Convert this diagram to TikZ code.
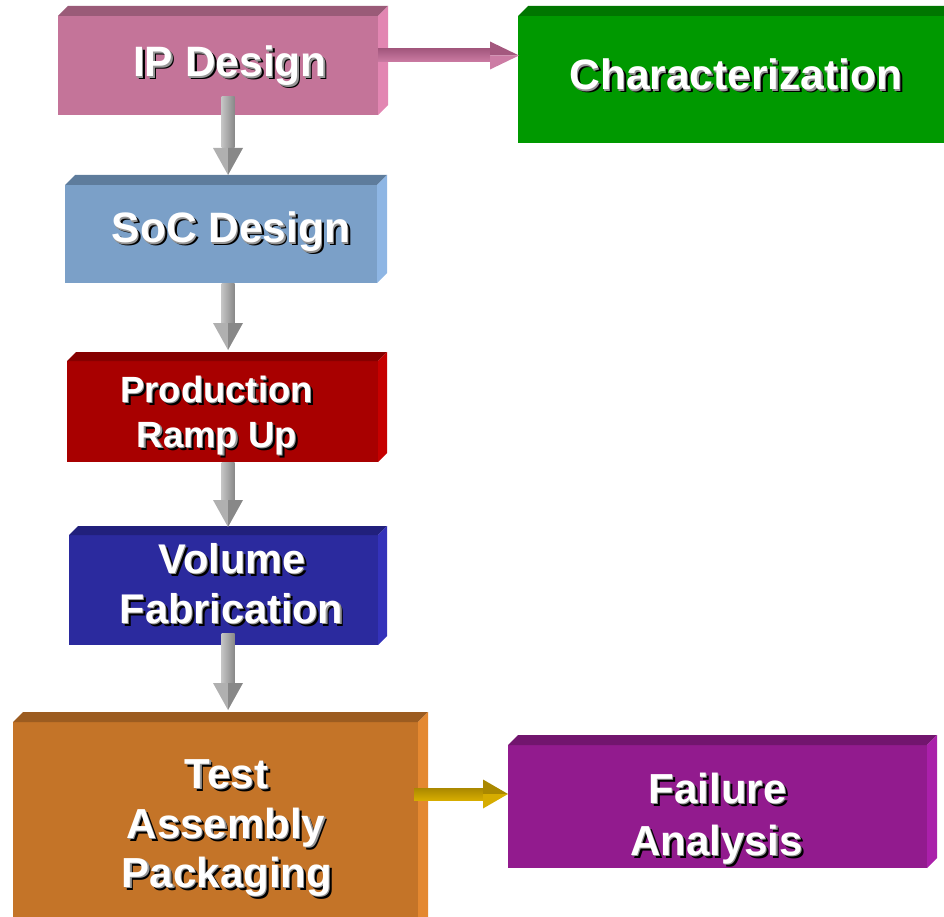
\documentclass[tikz,border=0pt]{standalone}
\usepackage{fontspec}
\newfontfamily\lbfont{Liberation Sans}
\usetikzlibrary{calc}

% face colours: F = front, T = top, S = side
\definecolor{ipF}{RGB}{196,116,153}\definecolor{ipT}{RGB}{154,91,120}\definecolor{ipS}{RGB}{226,134,178}
\definecolor{chF}{RGB}{0,153,0}\definecolor{chT}{RGB}{0,118,0}\definecolor{chS}{RGB}{0,175,0}
\definecolor{scF}{RGB}{123,160,200}\definecolor{scT}{RGB}{94,124,156}\definecolor{scS}{RGB}{142,182,228}
\definecolor{prF}{RGB}{168,0,0}\definecolor{prT}{RGB}{134,0,0}\definecolor{prS}{RGB}{198,0,0}
\definecolor{voF}{RGB}{43,42,158}\definecolor{voT}{RGB}{33,32,124}\definecolor{voS}{RGB}{52,50,186}
\definecolor{teF}{RGB}{196,116,40}\definecolor{teT}{RGB}{156,92,32}\definecolor{teS}{RGB}{228,136,48}
\definecolor{faF}{RGB}{146,27,142}\definecolor{faT}{RGB}{114,21,110}\definecolor{faS}{RGB}{170,32,170}
\definecolor{grL}{RGB}{196,196,196}\definecolor{grD}{RGB}{136,136,136}
\definecolor{pkL}{RGB}{204,124,164}\definecolor{pkD}{RGB}{164,88,126}
\definecolor{gdL}{RGB}{214,172,0}\definecolor{gdD}{RGB}{170,136,0}
\definecolor{bevel}{RGB}{150,150,150}

\tikzset{
  front/.style={rectangle, inner sep=0pt, outer sep=0pt, draw=none},
  lbl/.style={inner sep=0pt, outer sep=0pt, anchor=base}
}

% white lettering with a grey bevel and a black drop shadow
\newcommand\embossed[1]{%
  \rlap{\kern3pt\raisebox{-3pt}{\color{black}#1}}%
  \rlap{\kern1.2pt\raisebox{-1.2pt}{\color{bevel}#1}}%
  {\color{white}#1}}

% a box seen slightly from above and from the right
% #1 name, #2 cx, #3 cy, #4 width, #5 height, #6 colour prefix, #7 depth
\newcommand\cuboid[7]{%
  \node[front, fill=#6F, minimum width=#4pt, minimum height=#5pt] (#1) at (#2,#3) {};
  \fill[#6T] (#1.north west) -- ++(#7,-#7) -- ([shift={(#7,-#7)}]#1.north east) -- (#1.north east) -- cycle;
  \fill[#6S] (#1.north east) -- ++(#7,-#7) -- ([shift={(#7,-#7)}]#1.south east) -- (#1.south east) -- cycle;
}

% one line of box lettering
% #1 name, #2 x, #3 baseline y, #4 size, #5 text
\newcommand\boxtext[5]{%
  \node[lbl, font=\lbfont\bfseries\fontsize{#4}{#4}\selectfont] (#1) at (#2,#3) {\embossed{#5}};
}

% downward block arrow from #1 to #2
\newcommand\varrow[2]{%
  \shade[left color=grL, right color=grD] let \p1=(#1), \p2=(#2) in
    (\x1-6.5pt,\y1) -- (\x1+6.5pt,\y1) -- (\x1+6.5pt,\y2+27pt) -- (\x1-6.5pt,\y2+27pt) -- cycle;
  \fill[grL!90!black] let \p1=(#1), \p2=(#2) in
    (\x1-15pt,\y2+27pt) -- (\x1,\y2+27pt) -- (\x1,\y2) -- cycle;
  \fill[grD] let \p1=(#1), \p2=(#2) in
    (\x1+15pt,\y2+27pt) -- (\x1,\y2+27pt) -- (\x1,\y2) -- cycle;
}

% rightward block arrow from #1 to #2
% #3 light, #4 dark, #5 shaft half width, #6 head half width, #7 head length
\newcommand\harrow[7]{%
  \shade[top color=#4, bottom color=#3] let \p1=(#1), \p2=(#2) in
    (\x1,\y1+#5pt) -- (\x2-#7pt,\y1+#5pt) -- (\x2-#7pt,\y1-#5pt) -- (\x1,\y1-#5pt) -- cycle;
  \fill[#4] let \p1=(#1), \p2=(#2) in
    (\x2-#7pt,\y1+#6pt) -- (\x2,\y1) -- (\x2-#7pt,\y1) -- cycle;
  \fill[#3] let \p1=(#1), \p2=(#2) in
    (\x2-#7pt,\y1-#6pt) -- (\x2,\y1) -- (\x2-#7pt,\y1) -- cycle;
}

\begin{document}
\begin{tikzpicture}[x=1pt, y=-1pt]
\useasboundingbox (0,0) rectangle (944,917);
\clip (0,0) rectangle (944,917);

% boxes
\cuboid{ip}{218}{65.5}{320}{99}{ip}{10}
\cuboid{ch}{737}{79.5}{438}{127}{ch}{10}
\cuboid{soc}{221}{234}{312}{98}{sc}{10}
\cuboid{prod}{222.5}{411.5}{311}{101}{pr}{9}
\cuboid{vol}{223.5}{590}{309}{110}{vo}{9}
\cuboid{test}{215.5}{826}{405}{208}{te}{10}
\cuboid{fail}{717.5}{806.5}{419}{123}{fa}{10}

% connectors
\coordinate (ipOut) at ([shift={(10,-18.5)}]ip.south);
\coordinate (socIn) at ([shift={(7,-10)}]soc.north);
\varrow{ipOut}{socIn}
\coordinate (socOut) at ([shift={(7,0)}]soc.south);
\coordinate (prodIn) at ([shift={(5.5,-11)}]prod.north);
\varrow{socOut}{prodIn}
\coordinate (prodOut) at ([shift={(5.5,0)}]prod.south);
\coordinate (volIn) at ([shift={(4.5,-8)}]vol.north);
\varrow{prodOut}{volIn}
\coordinate (volOut) at ([shift={(4.5,-12)}]vol.south);
\coordinate (testIn) at ([shift={(12.5,-12)}]test.north);
\varrow{volOut}{testIn}
\coordinate (ipSide) at ([shift={(0,-10)}]ip.east);
\coordinate (chIn) at ([shift={(1,-24)}]ch.west);
\harrow{ipSide}{chIn}{pkL}{pkD}{6.5}{14}{29}
\coordinate (testSide) at ([shift={(-4,-32)}]test.east);
\coordinate (failIn) at ([shift={(0,-12.5)}]fail.west);
\harrow{testSide}{failIn}{gdL}{gdD}{6}{14.5}{25}

% labels
\boxtext{ipT}{230}{77}{42.5}{IP Design}
\boxtext{chT}{736}{90}{42.5}{Characterization}
\boxtext{socT}{231}{243}{42.5}{SoC Design}
\boxtext{prodT1}{216.5}{402}{36.5}{Production}
\boxtext{prodT2}{217}{447}{36.5}{Ramp Up}
\boxtext{volT1}{232}{573}{41.5}{Volume}
\boxtext{volT2}{231.5}{623}{41.5}{Fabrication}
\boxtext{testT1}{226.5}{788}{42}{Test}
\boxtext{testT2}{226}{838}{42}{Assembly}
\boxtext{testT3}{227}{887}{42}{Packaging}
\boxtext{failT1}{717.5}{803}{42}{Failure}
\boxtext{failT2}{716.5}{855}{42}{Analysis}
\end{tikzpicture}
\end{document}
